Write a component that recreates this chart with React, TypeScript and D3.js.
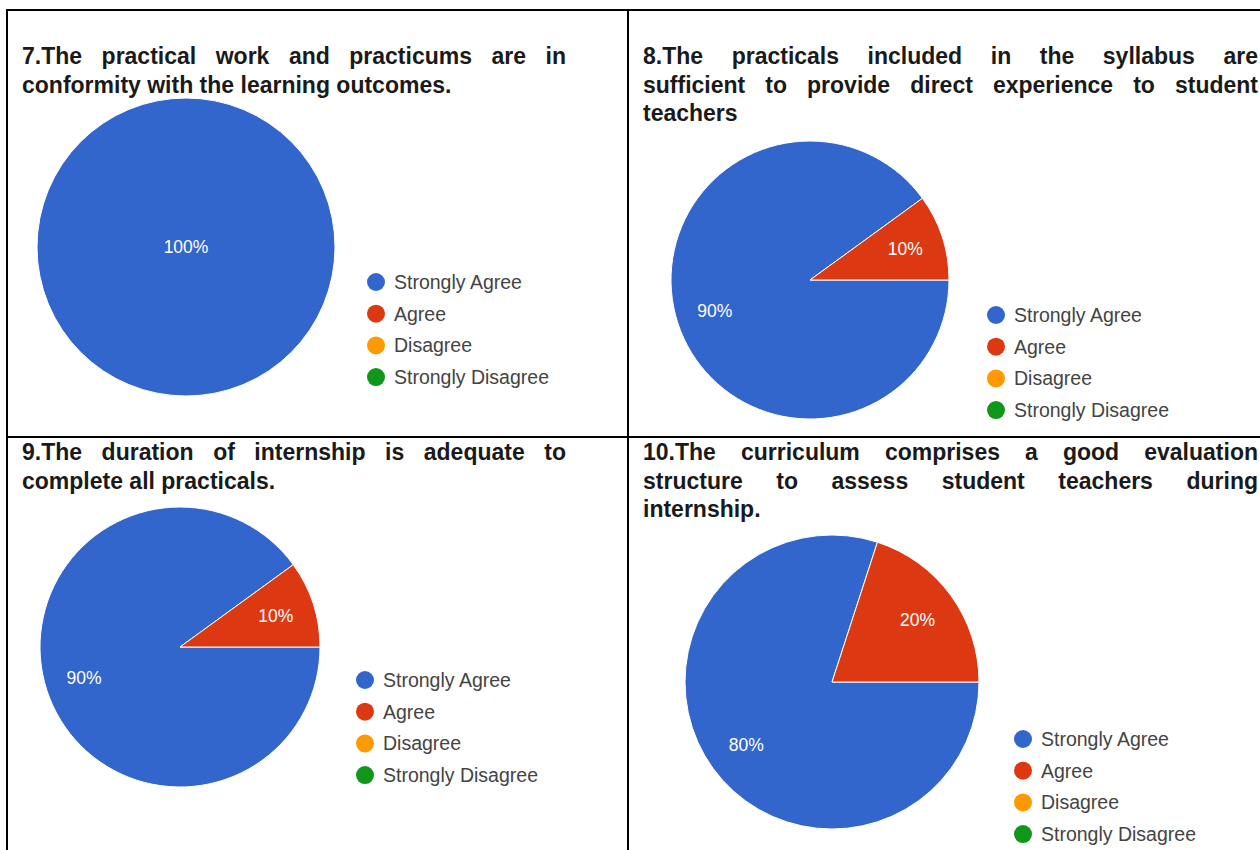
import { useEffect, useRef } from 'react';
import * as d3 from 'd3';

const categories = ['Strongly Agree', 'Agree', 'Disagree', 'Strongly Disagree'];
const colors = ['#3366cc', '#dc3912', '#ff9900', '#109618'];

const q7Values = [100, 0, 0, 0];
const q8Values = [90, 10, 0, 0];
const q9Values = [90, 10, 0, 0];
const q10Values = [80, 20, 0, 0];

const q7Title = ['7.The practical work and practicums are in', 'conformity with the learning outcomes.'];
const q8Title = [
  '8.The practicals included in the syllabus are',
  'sufficient to provide direct experience to student',
  'teachers',
];
const q9Title = ['9.The duration of internship is adequate to', 'complete all practicals.'];
const q10Title = [
  '10.The curriculum comprises a good evaluation',
  'structure to assess student teachers during',
  'internship.',
];

// layout of each cell
const panels = [
  { values: q7Values, title: q7Title, tx: 22, tw: 544, ty: 64, cx: 186, cy: 247, r: 149, lx: 376, ly: 282 },
  { values: q8Values, title: q8Title, tx: 643, tw: 615, ty: 64, cx: 810, cy: 280, r: 139, lx: 996, ly: 315 },
  { values: q9Values, title: q9Title, tx: 22, tw: 544, ty: 460, cx: 180, cy: 647, r: 140, lx: 365, ly: 680 },
  { values: q10Values, title: q10Title, tx: 643, tw: 615, ty: 460, cx: 832, cy: 682, r: 147, lx: 1023, ly: 739 },
];

const W = 1260;
const H = 850;

export default function App() {
  const svgRef = useRef<SVGSVGElement>(null);

  useEffect(() => {
    if (!svgRef.current) return;
    const svg = d3.select(svgRef.current);
    svg.selectAll('*').remove();

    svg.append('rect').attr('width', W).attr('height', H).attr('fill', '#fff');

    // table grid
    const grid = svg.append('g').attr('stroke', '#000').attr('stroke-width', 2);
    grid.append('line').attr('x1', 7).attr('x2', W).attr('y1', 10).attr('y2', 10);
    grid.append('line').attr('x1', 7).attr('x2', 7).attr('y1', 9).attr('y2', H);
    grid.append('line').attr('x1', 628).attr('x2', 628).attr('y1', 9).attr('y2', H);
    grid.append('line').attr('x1', 7).attr('x2', W).attr('y1', 437).attr('y2', 437);

    const pie = d3.pie<number>()
      .sort(null)
      .value(d => d)
      .startAngle(Math.PI / 2)
      .endAngle(Math.PI / 2 + Math.PI * 2);

    panels.forEach(p => {
      // title, justified like the source document
      const tg = svg.append('g')
        .attr('font-family', '"Liberation Sans", Arial, sans-serif')
        .attr('font-weight', 'bold')
        .attr('font-size', 23)
        .attr('fill', '#1a1a1a');
      p.title.forEach((line, li) => {
        const y = p.ty + li * 28.5;
        const last = li === p.title.length - 1;
        if (last) {
          tg.append('text').attr('x', p.tx).attr('y', y).text(line);
          return;
        }
        const words = line.split(' ');
        const nodes = words.map(w => tg.append('text').attr('y', y).text(w));
        const widths = nodes.map(n => (n.node() as SVGTextElement).getComputedTextLength());
        const gap = (p.tw - d3.sum(widths)) / (words.length - 1);
        let x = p.tx;
        nodes.forEach((n, i) => {
          n.attr('x', x);
          x += widths[i] + gap;
        });
      });

      const arcs = pie(p.values);
      const arc = d3.arc<d3.PieArcDatum<number>>().innerRadius(0).outerRadius(p.r);
      const labelArc = d3.arc<d3.PieArcDatum<number>>().innerRadius(p.r * 0.72).outerRadius(p.r * 0.72);

      const g = svg.append('g').attr('transform', `translate(${p.cx},${p.cy})`);
      g.selectAll('path')
        .data(arcs.filter(d => d.value > 0))
        .join('path')
        .attr('d', arc)
        .attr('fill', d => colors[d.index])
        .attr('stroke', '#fff')
        .attr('stroke-width', 1);

      g.selectAll('text')
        .data(arcs.filter(d => d.value > 0))
        .join('text')
        .attr('transform', d => (d.value === 100 ? 'translate(0,0)' : `translate(${labelArc.centroid(d)})`))
        .attr('text-anchor', 'middle')
        .attr('dy', '0.36em')
        .attr('font-family', '"Liberation Sans", Arial, sans-serif')
        .attr('font-size', 17.5)
        .attr('fill', '#fff')
        .text(d => `${d.value}%`);

      // legend
      const lg = svg.append('g')
        .attr('font-family', '"Liberation Sans", Arial, sans-serif')
        .attr('font-size', 19.5)
        .selectAll('g')
        .data(categories)
        .join('g')
        .attr('transform', (_, i) => `translate(${p.lx},${p.ly + i * 31.7})`);
      lg.append('circle').attr('r', 9).attr('fill', (_, i) => colors[i]);
      lg.append('text')
        .attr('x', 18)
        .attr('dy', '0.36em')
        .attr('fill', '#444')
        .text(d => d);
    });
  }, []);

  return (
    <div style={{ position: 'absolute', left: 0, top: 0 }}>
      <svg ref={svgRef} width={W} height={H} style={{ display: 'block' }} />
    </div>
  );
}
